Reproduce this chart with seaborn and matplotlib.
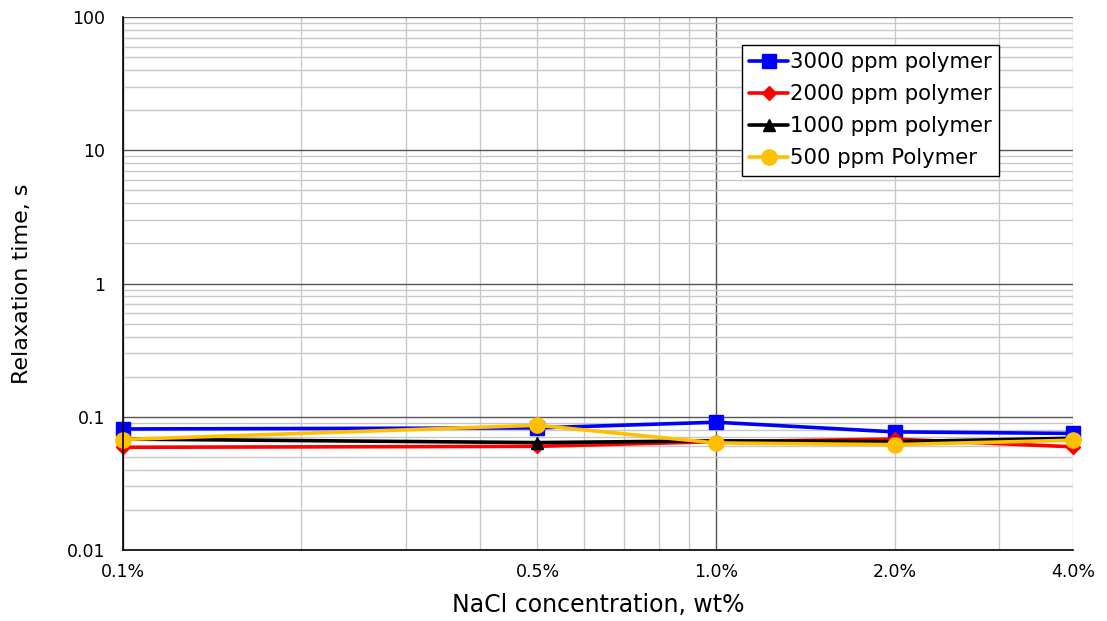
import matplotlib
matplotlib.use("Agg")
import matplotlib.pyplot as plt
import matplotlib.ticker as mticker
import seaborn as sns
import pandas as pd

nacl = [0.1, 0.5, 1.0, 2.0, 4.0]
p3000 = [0.081, 0.0825, 0.091, 0.077, 0.075]
p2000 = [0.059, 0.060, 0.065, 0.068, 0.0595]
p1000 = [0.068, 0.064, 0.066, 0.065, 0.069]
p500 = [0.0675, 0.0863, 0.0636, 0.0618, 0.0667]
labels = ["3000 ppm polymer", "2000 ppm polymer", "1000 ppm polymer", "500 ppm Polymer"]
colors = ["#0000FF", "#FF0000", "#000000", "#FFC000"]
markers = ["s", "D", "^", "o"]
msizes = [10, 7, 9, 11]
x_tick_vals = [0.1, 0.5, 1.0, 2.0, 4.0]
x_tick_labels = ["0.1%", "0.5%", "1.0%", "2.0%", "4.0%"]
y_tick_vals = [0.01, 0.1, 1, 10, 100]
y_tick_labels = ["0.01", "0.1", "1", "10", "100"]

sns.set_style("white")
plt.rcParams['font.family'] = ['DejaVu Sans']
plt.rcParams['text.color'] = 'black'
plt.rcParams['axes.labelcolor'] = 'black'
plt.rcParams['xtick.color'] = 'black'
plt.rcParams['ytick.color'] = 'black'

fig = plt.figure(figsize=(11.07, 6.21), dpi=100)
ax = fig.add_axes([0.1111, 0.1143, 0.8582, 0.8583])

series = [p3000, p2000, p1000, p500]
for vals, lab, col, mk, ms in zip(series, labels, colors, markers, msizes):
    df = pd.DataFrame({"x": nacl, "y": vals})
    sns.lineplot(data=df, x="x", y="y", ax=ax, color=col, marker=mk,
                 markersize=ms, markeredgecolor=col, markeredgewidth=1,
                 linewidth=2.6, label=lab, clip_on=False, zorder=5)

ax.set_xscale("log")
ax.set_yscale("log")
ax.set_xlim(0.1, 4.0)
ax.set_ylim(0.01, 100)

ax.xaxis.set_major_locator(mticker.FixedLocator([0.1, 1.0]))
ax.xaxis.set_minor_locator(mticker.FixedLocator([0.2, 0.3, 0.4, 0.5, 0.6, 0.7, 0.8, 0.9, 2, 3, 4]))
lab_map = dict(zip(x_tick_vals, x_tick_labels))
def xfmt(v, pos):
    for k, s in lab_map.items():
        if abs(v - k) < 1e-9:
            return s
    return ""
ax.xaxis.set_major_formatter(mticker.FuncFormatter(xfmt))
ax.xaxis.set_minor_formatter(mticker.FuncFormatter(xfmt))

ax.yaxis.set_major_locator(mticker.FixedLocator(y_tick_vals))
ax.yaxis.set_major_formatter(mticker.FixedFormatter(y_tick_labels))
ax.yaxis.set_minor_locator(mticker.LogLocator(base=10, subs=range(2, 10), numticks=20))
ax.yaxis.set_minor_formatter(mticker.NullFormatter())

ax.tick_params(axis="both", which="major", direction="inout", length=8, width=1,
               labelsize=12.5)
ax.tick_params(axis="both", which="minor", direction="in", length=4, width=1,
               labelsize=12.5)
ax.tick_params(axis="x", which="major", pad=5)
ax.tick_params(axis="x", which="minor", pad=5 + 4)
ax.tick_params(axis="y", which="major", pad=9)

ax.grid(True, which="major", color="#555555", linewidth=1)
ax.grid(True, which="minor", color="#c8c8c8", linewidth=1)
ax.set_axisbelow(True)

for s in ["top", "right"]:
    ax.spines[s].set_visible(False)
for s in ["left", "bottom"]:
    ax.spines[s].set_color("black")
    ax.spines[s].set_linewidth(1.2)
    ax.spines[s].set_zorder(6)

ax.set_xlabel("NaCl concentration, wt%", fontsize=17)
ax.set_ylabel("Relaxation time, s", fontsize=16)
ax.xaxis.set_label_coords(0.5, -0.08)
ax.yaxis.set_label_coords(-0.096, 0.5)

leg = ax.legend(loc="upper left", bbox_to_anchor=(0.6516, 0.9475), fontsize=15.3,
                frameon=True, fancybox=False, framealpha=1, edgecolor="black",
                handlelength=1.8, handletextpad=0.1, borderpad=0.35,
                labelspacing=0.56, borderaxespad=0)
leg.get_frame().set_linewidth(1)
leg.set_zorder(10)

fig.savefig("out.png", dpi=100)
